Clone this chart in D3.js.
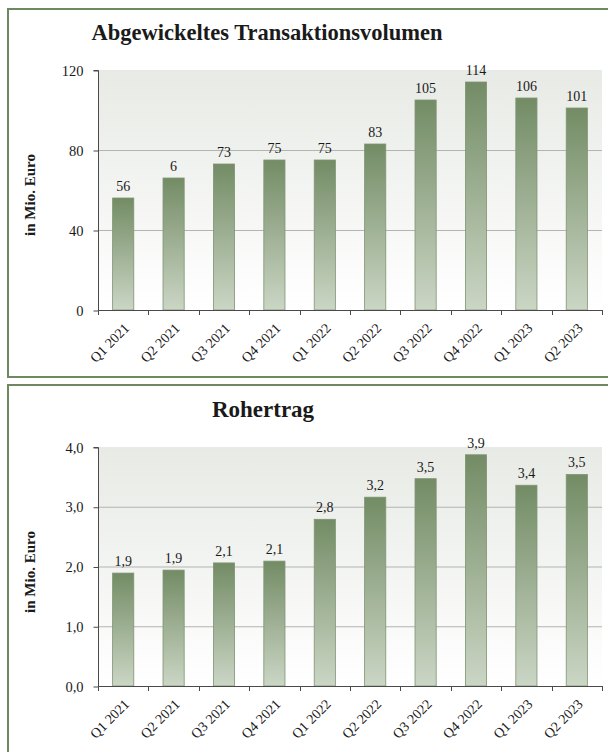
<!DOCTYPE html>
<html>
<head>
<meta charset="utf-8">
<script src="https://cdn.jsdelivr.net/npm/d3@7"></script>
<style>
  html, body { margin: 0; padding: 0; background: #ffffff; }
  svg { display: block; }
  text { font-family: "Liberation Serif", "DejaVu Serif", serif; fill: #1a1a1a; }
</style>
</head>
<body>
<svg id="chart" width="608" height="752"></svg>
<script>
// Quarters shown on both charts
const quarters = ["Q1 2021", "Q2 2021", "Q3 2021", "Q4 2021", "Q1 2022", "Q2 2022",
                  "Q3 2022", "Q4 2022", "Q1 2023", "Q2 2023"];

// Settled transaction volume, EUR million
const volumeValues = [56, 66, 73, 75, 75, 83, 105, 114, 106, 101];
const volumeLabels = ["56", "6", "73", "75", "75", "83", "105", "114", "106", "101"];
const volumeTicks = [0, 40, 80, 120];

// Gross profit, EUR million
const grossValues = [1.89, 1.94, 2.06, 2.09, 2.79, 3.16, 3.47, 3.87, 3.36, 3.54];
const grossTicks = [0, 1, 2, 3, 4];

const de = d3.formatLocale({ decimal: ",", thousands: ".", grouping: [3], currency: ["", " €"] });
const fmt1 = de.format(".1f");

const svg = d3.select("#chart");
const defs = svg.append("defs");

const bgGrad = defs.append("linearGradient").attr("id", "plotBg")
  .attr("x1", 0).attr("y1", 0).attr("x2", 0).attr("y2", 1);
bgGrad.append("stop").attr("offset", "0%").attr("stop-color", "#e7eae5");
bgGrad.append("stop").attr("offset", "100%").attr("stop-color", "#ffffff");

const barGrad = defs.append("linearGradient").attr("id", "barFill")
  .attr("x1", 0).attr("y1", 0).attr("x2", 0).attr("y2", 1);
barGrad.append("stop").attr("offset", "0%").attr("stop-color", "#738c65");
barGrad.append("stop").attr("offset", "100%").attr("stop-color", "#cbd6c5");

function drawPanel(opts) {
  const g = svg.append("g");

  // framed panel
  g.append("rect")
    .attr("x", 8).attr("y", opts.frameTop)
    .attr("width", 612).attr("height", opts.frameHeight)
    .attr("fill", "#ffffff").attr("stroke", "#6d8960").attr("stroke-width", 2);

  g.append("text")
    .attr("x", opts.titleX).attr("y", opts.titleY)
    .attr("text-anchor", "middle")
    .attr("font-size", opts.titleSize).attr("font-weight", "bold")
    .text(opts.title);

  const x = d3.scaleBand().domain(quarters).range([98, 602])
    .paddingInner(0.58).paddingOuter(0.29);
  const y = d3.scaleLinear().domain(opts.domain).range([opts.bottom, opts.top]);

  // plot background
  g.append("rect")
    .attr("x", 98).attr("y", opts.top)
    .attr("width", 504).attr("height", opts.bottom - opts.top)
    .attr("fill", "url(#plotBg)");

  // gridlines
  g.append("g").selectAll("line")
    .data(opts.ticks.filter(t => t > opts.domain[0] && t < opts.domain[1]))
    .join("line")
    .attr("x1", 98).attr("x2", 602)
    .attr("y1", d => y(d) + 0.5).attr("y2", d => y(d) + 0.5)
    .attr("stroke", "#b3b5b1").attr("stroke-width", 1);

  // bars
  g.append("g").selectAll("rect")
    .data(quarters.map((q, i) => ({ q, v: opts.values[i] })))
    .join("rect")
    .attr("x", d => x(d.q)).attr("width", x.bandwidth())
    .attr("y", d => y(d.v)).attr("height", d => y(0) - y(d.v))
    .attr("fill", "url(#barFill)")
    .attr("stroke", "#7f9474").attr("stroke-width", 0.8);

  // value labels
  g.append("g").selectAll("text")
    .data(quarters.map((q, i) => ({ q, v: opts.values[i], t: opts.labels[i] })))
    .join("text")
    .attr("x", d => x(d.q) + x.bandwidth() / 2)
    .attr("y", d => y(d.v) - 7)
    .attr("text-anchor", "middle")
    .attr("font-size", 14)
    .text(d => d.t);

  // y axis
  const yAxis = d3.axisLeft(y).tickValues(opts.ticks).tickSize(5).tickPadding(10)
    .tickFormat(opts.tickFormat);
  const ya = g.append("g").attr("transform", "translate(98.5,0.5)").call(yAxis);
  ya.select(".domain").attr("stroke", "#4a4a4a").attr("d", `M-5,${opts.top}H0V${opts.bottom}`);
  ya.selectAll(".tick line").attr("stroke", "#4a4a4a");
  ya.selectAll(".tick text")
    .attr("font-family", "Liberation Serif, serif").attr("font-size", 14.5).attr("fill", "#1a1a1a");

  // x axis: ticks at the category boundaries
  const step = x.step();
  const bounds = d3.range(quarters.length + 1).map(i => 98 + i * step);
  const xa = g.append("g");
  xa.append("line")
    .attr("x1", 98).attr("x2", 602)
    .attr("y1", opts.bottom + 0.5).attr("y2", opts.bottom + 0.5)
    .attr("stroke", "#4a4a4a");
  xa.selectAll("line.tk").data(bounds).join("line").attr("class", "tk")
    .attr("x1", d => Math.round(d) + 0.5).attr("x2", d => Math.round(d) + 0.5)
    .attr("y1", opts.bottom).attr("y2", opts.bottom + 5)
    .attr("stroke", "#4a4a4a");
  xa.selectAll("text").data(quarters).join("text")
    .attr("transform", d => `translate(${x(d) + x.bandwidth() / 2 + 7},${opts.bottom + 19}) rotate(-45)`)
    .attr("text-anchor", "end")
    .attr("font-size", 14)
    .text(d => d);

  // y axis title
  g.append("text")
    .attr("transform", `translate(35,${opts.yTitleY}) rotate(-90)`)
    .attr("text-anchor", "middle")
    .attr("font-size", 15).attr("font-weight", "bold")
    .text("in Mio. Euro");
}

drawPanel({
  frameTop: 9, frameHeight: 368,
  title: "Abgewickeltes Transaktionsvolumen", titleX: 267, titleY: 40, titleSize: 22.5,
  top: 70, bottom: 310, domain: [0, 120], ticks: volumeTicks,
  values: volumeValues, labels: volumeLabels,
  tickFormat: d3.format("d"), yTitleY: 195
});

drawPanel({
  frameTop: 385, frameHeight: 400,
  title: "Rohertrag", titleX: 263, titleY: 417, titleSize: 23,
  top: 447, bottom: 686, domain: [0, 4], ticks: grossTicks,
  values: grossValues, labels: grossValues.map(fmt1),
  tickFormat: fmt1, yTitleY: 572
});
</script>
</body>
</html>
